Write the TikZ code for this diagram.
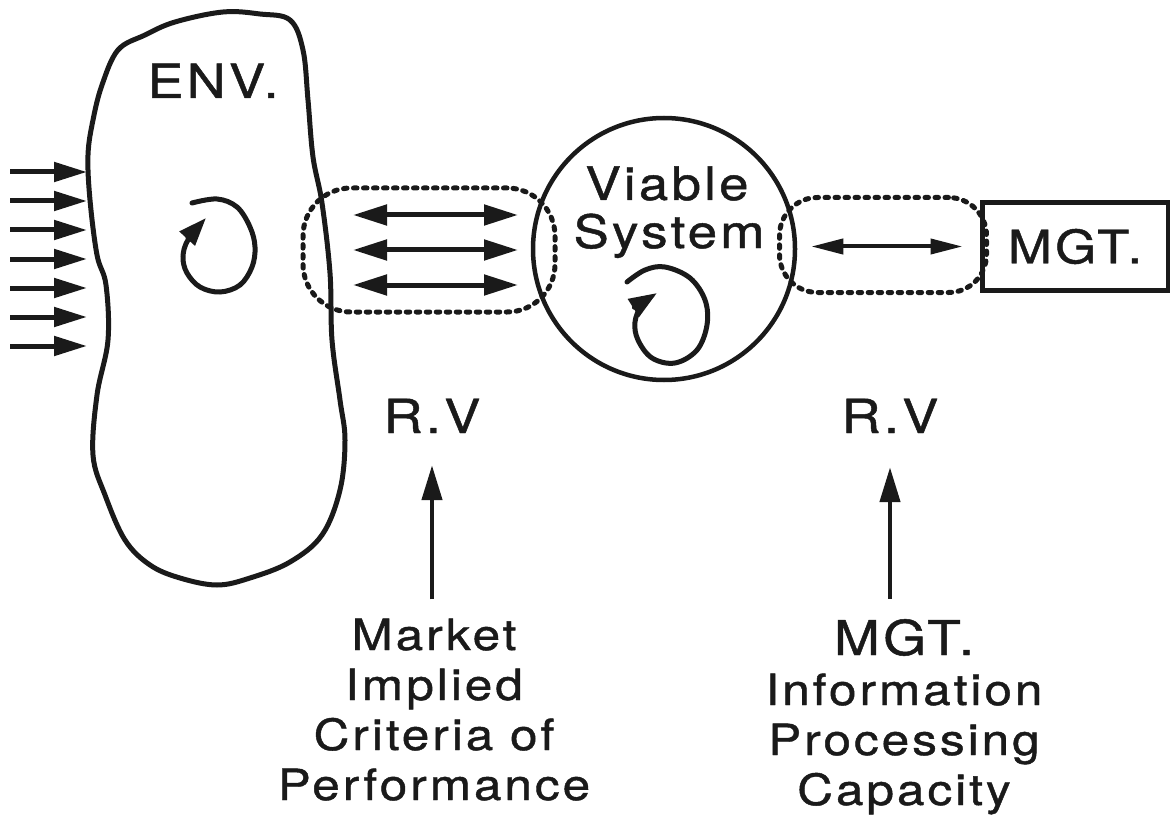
\documentclass[tikz,border=0pt]{standalone}
\usepackage{fontspec}
\setmainfont{TeX Gyre Heros}[FakeStretch=1.15,LetterSpace=7,FakeBold=1]
\usetikzlibrary{arrows.meta,positioning}
\definecolor{inkcol}{HTML}{1A1A1A}

\begin{document}
\begin{tikzpicture}[x=1pt,y=-1pt,
	ink/.style={draw=inkcol,line width=5pt},
	lbl/.style={anchor=base,inner sep=0pt,text=inkcol,font=\fontsize{43}{50}\selectfont},
	big/.style={lbl,font=\fontsize{47}{54}\selectfont},
	rvzone/.style={draw=inkcol,line width=5pt,dash pattern=on 3.5pt off 6.5pt,line cap=round,inner sep=0pt},
	inarrow/.style={draw=inkcol,line width=5pt,-{Triangle[length=33pt,width=19pt]}},
	dblarrow/.style={draw=inkcol,line width=5pt,{Triangle[length=34pt,width=20pt]}-{Triangle[length=34pt,width=20pt]}},
	thinarrow/.style={draw=inkcol,line width=4pt,{Triangle[length=32pt,width=15pt]}-{Triangle[length=32pt,width=15pt]}},
	uparrow/.style={draw=inkcol,line width=4.5pt,-{Triangle[length=35pt,width=20pt]}},
	spin/.style={draw=inkcol,line width=5pt,line cap=round,-{Triangle[length=28pt,width=20pt]}}]
\useasboundingbox (0,0) rectangle (1170,821);

\draw[ink,line join=round] plot[smooth cycle,tension=0.6] coordinates {
	(223,12) (260,14) (290,20) (303,50) (308,100) (313,157) (322,203) (330,273)
	(332,340) (340,400) (345,440) (340,490) (322,535) (290,562) (250,578) (217,585)
	(180,578) (150,565) (125,540) (105,495) (93,455) (97,395) (108,340) (106,285)
	(97,255) (90,200) (88,155) (93,120) (102,85) (118,50) (145,35) (175,22)};
\node[big] (env) at (213,98) {ENV.};
\draw[spin] plot[smooth,tension=0.6] coordinates {
	(192,203) (217,199) (237,207) (250,227) (255,247) (252,267) (240,285) (220,292)
	(200,287) (187,273) (183,257) (188,240) (206,218)};

\foreach \y [count=\i] in {172,201,230,259,288,317,346}{
	\coordinate (in\i) at (10,\y);
	\coordinate (tip\i) at (87,\y);
	\draw[inarrow] (in\i) -- (tip\i);
	}

\node[rvzone,minimum width=252pt,minimum height=124pt,rounded corners=48pt] (rvL) at (429,250) {};
\node[rvzone,minimum width=207pt,minimum height=95pt,rounded corners=38pt] (rvR) at (883,245) {};

\node[ink,circle,minimum size=262pt,inner sep=0pt,line width=4.5pt] (vs) at (664,249) {};
\node[lbl,font=\fontsize{46}{52}\selectfont] (vs1) at (667,200) {Viable};
\node[lbl,font=\fontsize{46}{52}\selectfont] (vs2) at (669,248) {System};
\draw[spin] plot[smooth,tension=0.6] coordinates {
	(627,282) (645,270) (665,267) (690,278) (705,300) (707,325) (697,350) (675,363)
	(652,358) (638,340) (635,322) (642,305) (657,293)};

\node[ink,rectangle,minimum width=186pt,minimum height=87pt,inner sep=0pt,text=inkcol,
	font=\fontsize{46}{52}\selectfont] (mgt) at (1075,246.5) {MGT.};

\foreach \y [count=\i] in {215,250,285}{
	\coordinate (mkA\i) at (353,\y);
	\coordinate (mkB\i) at (518,\y);
	\draw[dblarrow] (mkA\i) -- (mkB\i);
	}
\draw[thinarrow,shorten <=14pt,shorten >=17pt] (vs.east |- mgt.west) -- (mgt.west);

\node[big] (rvA) at (432,433) {R.V};
\node[big] (rvB) at (890,433) {R.V};

\foreach \txt [count=\i] in {Market,Implied,Criteria of,Performance}
	\node[lbl] (mkt\i) at (434,600+50*\i) {\txt};
\foreach \txt/\fs [count=\i] in {MGT./48,Information/43,Processing/43,Capacity/43}
	\node[lbl,font=\fontsize{\fs}{\fs}\selectfont] (cap\i) at (904,605+50*\i) {\txt};

\draw[uparrow,shorten <=19pt,shorten >=32pt] (rvA.south |- mkt1.north) -- (rvA.south);
\draw[uparrow,shorten <=20pt,shorten >=34pt] (rvB.south |- cap1.north) -- (rvB.south);
\end{tikzpicture}
\end{document}
